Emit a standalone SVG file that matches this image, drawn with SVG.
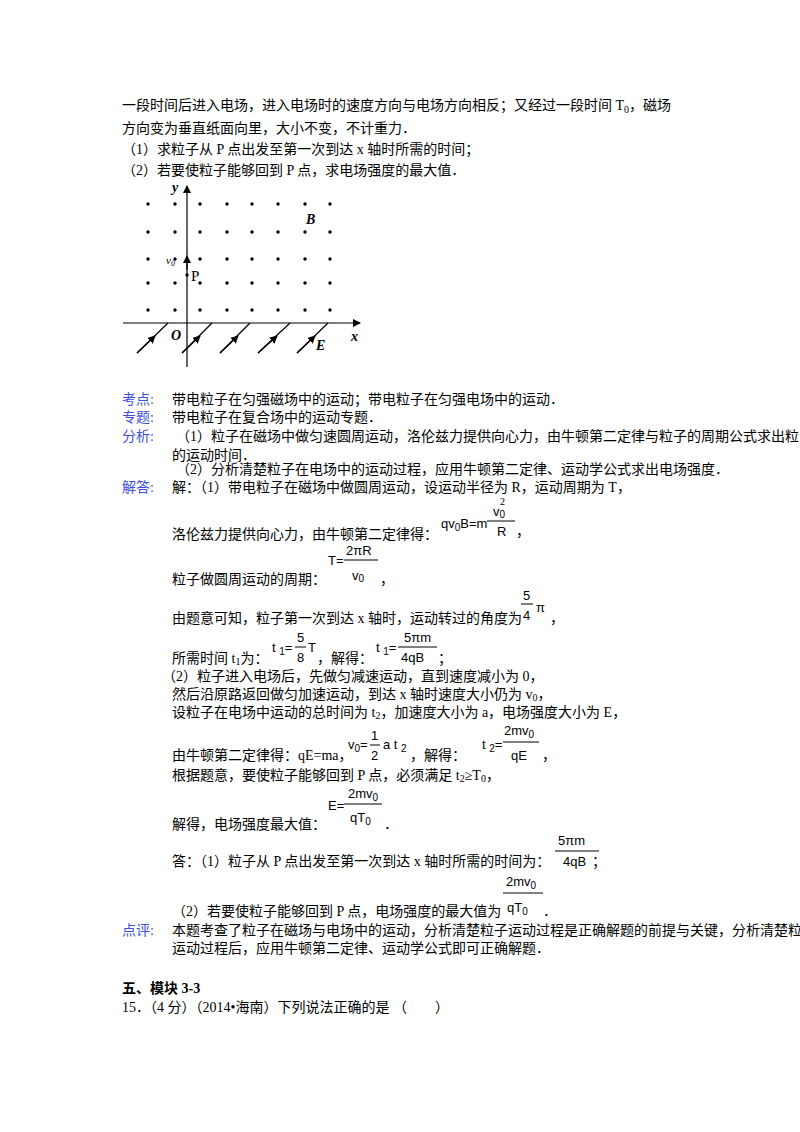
<svg xmlns="http://www.w3.org/2000/svg" width="800" height="1132" viewBox="0 0 800 1132">
<defs>
<style>
text{font-family:"Liberation Serif","Noto Sans CJK SC",serif;font-size:14px;fill:#000}
.b{fill:#3b4fe0}
.f{font-family:"Liberation Sans","Noto Sans CJK SC",sans-serif;font-size:13px}
.s{font-size:10px}
.i{font-style:italic;font-weight:bold}
line{stroke:#000;stroke-width:1.2}
</style>
<marker id="ah" markerWidth="8" markerHeight="8" refX="7" refY="4" orient="auto" markerUnits="userSpaceOnUse"><path d="M0,0 L8,4 L0,8 Z" fill="#000"/></marker>
</defs>
<rect width="800" height="1132" fill="#fff"/>
<text x="122" y="110">一段时间后进入电场，进入电场时的速度方向与电场方向相反；又经过一段时间 T<tspan class="s" dy="3">0</tspan><tspan dy="-3">，磁场</tspan></text>
<text x="122" y="133">方向变为垂直纸面向里，大小不变，不计重力．</text>
<text x="122" y="154">（1）求粒子从 P 点出发至第一次到达 x 轴时所需的时间；</text>
<text x="122" y="175">（2）若要使粒子能够回到 P 点，求电场强度的最大值．</text>
<g id="figure">
<g fill="#000">
<circle cx="148" cy="204" r="1.7"/><circle cx="175" cy="204" r="1.7"/><circle cx="200" cy="204" r="1.7"/><circle cx="227" cy="204" r="1.7"/><circle cx="252" cy="204" r="1.7"/><circle cx="278" cy="204" r="1.7"/><circle cx="305" cy="204" r="1.7"/><circle cx="330" cy="204" r="1.7"/>
<circle cx="148" cy="232" r="1.7"/><circle cx="175" cy="232" r="1.7"/><circle cx="200" cy="232" r="1.7"/><circle cx="227" cy="232" r="1.7"/><circle cx="252" cy="232" r="1.7"/><circle cx="278" cy="232" r="1.7"/><circle cx="305" cy="232" r="1.7"/><circle cx="330" cy="232" r="1.7"/>
<circle cx="148" cy="259" r="1.7"/><circle cx="175" cy="259" r="1.7"/><circle cx="200" cy="259" r="1.7"/><circle cx="227" cy="259" r="1.7"/><circle cx="252" cy="259" r="1.7"/><circle cx="278" cy="259" r="1.7"/><circle cx="305" cy="259" r="1.7"/><circle cx="330" cy="259" r="1.7"/>
<circle cx="148" cy="283" r="1.7"/><circle cx="175" cy="283" r="1.7"/><circle cx="200" cy="283" r="1.7"/><circle cx="227" cy="283" r="1.7"/><circle cx="252" cy="283" r="1.7"/><circle cx="278" cy="283" r="1.7"/><circle cx="305" cy="283" r="1.7"/><circle cx="330" cy="283" r="1.7"/>
<circle cx="148" cy="310" r="1.7"/><circle cx="175" cy="310" r="1.7"/><circle cx="200" cy="310" r="1.7"/><circle cx="227" cy="310" r="1.7"/><circle cx="252" cy="310" r="1.7"/><circle cx="278" cy="310" r="1.7"/><circle cx="305" cy="310" r="1.7"/><circle cx="330" cy="310" r="1.7"/>
<circle cx="187" cy="275" r="1.7"/>
</g>
<line x1="187" y1="367" x2="187" y2="186" marker-end="url(#ah)"/>
<line x1="123" y1="323" x2="360" y2="323" marker-end="url(#ah)"/>
<line x1="187" y1="270" x2="187" y2="256" marker-end="url(#ah)"/>
<line x1="137" y1="353" x2="168" y2="323"/><line x1="137" y1="353" x2="155" y2="336" marker-end="url(#ah)"/>
<line x1="182" y1="353" x2="212" y2="323"/><line x1="182" y1="353" x2="200" y2="336" marker-end="url(#ah)"/>
<line x1="220" y1="353" x2="250" y2="323"/><line x1="220" y1="353" x2="238" y2="336" marker-end="url(#ah)"/>
<line x1="258" y1="353" x2="290" y2="323"/><line x1="258" y1="353" x2="277" y2="336" marker-end="url(#ah)"/>
<line x1="297" y1="353" x2="328" y2="323"/><line x1="297" y1="353" x2="315" y2="336" marker-end="url(#ah)"/>
<text x="172" y="192" class="i">y</text>
<text x="171" y="340" class="i">O</text>
<text x="351" y="341" class="i">x</text>
<text x="306" y="224" class="i">B</text>
<text x="316" y="350" class="i">E</text>
<text x="166" y="264" style="font-size:11px;font-style:italic">v<tspan style="font-size:8px" dy="2">0</tspan></text>
<text x="191" y="281" style="font-size:15px">P</text>
</g>
<text x="122" y="404" class="b">考点:</text><text x="172" y="404">带电粒子在匀强磁场中的运动；带电粒子在匀强电场中的运动．</text>
<text x="122" y="422" class="b">专题:</text><text x="172" y="422">带电粒子在复合场中的运动专题．</text>
<text x="122" y="441" class="b">分析:</text><text x="176" y="441">（1）粒子在磁场中做匀速圆周运动，洛伦兹力提供向心力，由牛顿第二定律与粒子的周期公式求出粒</text>
<text x="172" y="460">的运动时间．</text>
<text x="176" y="474">（2）分析清楚粒子在电场中的运动过程，应用牛顿第二定律、运动学公式求出电场强度．</text>
<text x="122" y="492" class="b">解答:</text><text x="172" y="492">解：（1）带电粒子在磁场中做圆周运动，设运动半径为 R，运动周期为 T，</text>
<text x="172" y="539">洛伦兹力提供向心力，由牛顿第二定律得：</text>
<text x="441" y="528" class="f">qv<tspan class="s" dy="3">0</tspan><tspan dy="-3">B=m</tspan></text>
<line x1="487" y1="521" x2="515" y2="521" style="stroke-width:1"/>
<text x="500" y="505" class="s">2</text><text x="493" y="516" class="f">v<tspan class="s" dy="2">0</tspan></text>
<text x="497" y="536" class="f">R</text><text x="516" y="536">，</text>
<text x="172" y="584">粒子做圆周运动的周期：</text>
<text x="328" y="565" class="f">T=</text><line x1="344" y1="560" x2="378" y2="560" style="stroke-width:1"/>
<text x="346" y="555" class="f">2πR</text><text x="352" y="580" class="f">v<tspan class="s" dy="2">0</tspan></text><text x="380" y="584">，</text>
<text x="172" y="623">由题意可知，粒子第一次到达 x 轴时，运动转过的角度为</text>
<line x1="521" y1="604" x2="533" y2="604" style="stroke-width:1"/>
<text x="523" y="600" class="f">5</text><text x="523" y="620" class="f">4</text><text x="536" y="612" class="f">π</text><text x="550" y="623">，</text>
<text x="172" y="663">所需时间 t<tspan class="s" dy="2">1</tspan><tspan dy="-2">为：</tspan></text>
<text x="272" y="652" class="f">t <tspan class="s" dy="3">1</tspan><tspan dy="-3">=</tspan></text>
<line x1="295" y1="647" x2="306" y2="647" style="stroke-width:1"/>
<text x="297" y="642" class="f">5</text><text x="297" y="662" class="f">8</text><text x="308" y="652" class="f">T</text>
<text x="317" y="663">，解得：</text>
<text x="376" y="652" class="f">t <tspan class="s" dy="3">1</tspan><tspan dy="-3">=</tspan></text>
<line x1="398" y1="647" x2="437" y2="647" style="stroke-width:1"/>
<text x="404" y="642" class="f">5πm</text><text x="401" y="662" class="f">4qB</text><text x="438" y="663">；</text>
<text x="162" y="681">（2）粒子进入电场后，先做匀减速运动，直到速度减小为 0，</text>
<text x="172" y="699">然后沿原路返回做匀加速运动，到达 x 轴时速度大小仍为 v<tspan class="s" dy="2">0</tspan><tspan dy="-2">，</tspan></text>
<text x="172" y="717">设粒子在电场中运动的总时间为 t<tspan class="s" dy="2">2</tspan><tspan dy="-2">，加速度大小为 a，电场强度大小为 E，</tspan></text>
<text x="172" y="760">由牛顿第二定律得：qE=ma，</text>
<text x="348" y="749" class="f">v<tspan class="s" dy="3">0</tspan><tspan dy="-3">=</tspan></text>
<line x1="370" y1="745" x2="380" y2="745" style="stroke-width:1"/>
<text x="371" y="740" class="f">1</text><text x="371" y="760" class="f">2</text><text x="383" y="749" class="f">a t <tspan class="s" dy="3">2</tspan></text>
<text x="410" y="760">，解得：</text>
<text x="482" y="749" class="f">t <tspan class="s" dy="3">2</tspan><tspan dy="-3">=</tspan></text>
<line x1="503" y1="742" x2="539" y2="742" style="stroke-width:1"/>
<text x="504" y="735" class="f">2mv<tspan class="s" dy="3">0</tspan></text><text x="511" y="760" class="f">qE</text><text x="542" y="760">，</text>
<text x="172" y="780">根据题意，要使粒子能够回到 P 点，必须满足 t<tspan class="s" dy="2">2</tspan><tspan dy="-2">≥T</tspan><tspan class="s" dy="2">0</tspan><tspan dy="-2">，</tspan></text>
<text x="172" y="829">解得，电场强度最大值：</text>
<text x="328" y="810" class="f">E=</text><line x1="344" y1="804" x2="382" y2="804" style="stroke-width:1"/>
<text x="348" y="798" class="f">2mv<tspan class="s" dy="3">0</tspan></text><text x="350" y="822" class="f">qT<tspan class="s" dy="3">0</tspan></text><text x="384" y="829">．</text>
<text x="172" y="866">答：（1）粒子从 P 点出发至第一次到达 x 轴时所需的时间为：</text>
<line x1="555" y1="851" x2="599" y2="851" style="stroke-width:1"/>
<text x="558" y="845" class="f">5πm</text><text x="563" y="866" class="f">4qB</text><text x="592" y="866">；</text>
<text x="172" y="916">（2）若要使粒子能够回到 P 点，电场强度的最大值为</text>
<line x1="503" y1="893" x2="543" y2="893" style="stroke-width:1"/>
<text x="506" y="886" class="f">2mv<tspan class="s" dy="3">0</tspan></text><text x="507" y="912" class="f">qT<tspan class="s" dy="3">0</tspan></text><text x="543" y="916">．</text>
<text x="122" y="935" class="b">点评:</text><text x="172" y="935">本题考查了粒子在磁场与电场中的运动，分析清楚粒子运动过程是正确解题的前提与关键，分析清楚粒</text>
<text x="172" y="953">运动过程后，应用牛顿第二定律、运动学公式即可正确解题．</text>
<text x="122" y="993" style="font-weight:bold">五、模块 3-3</text>
<text x="122" y="1012">15．（4 分）（2014•海南）下列说法正确的是 （　　）</text>
</svg>
